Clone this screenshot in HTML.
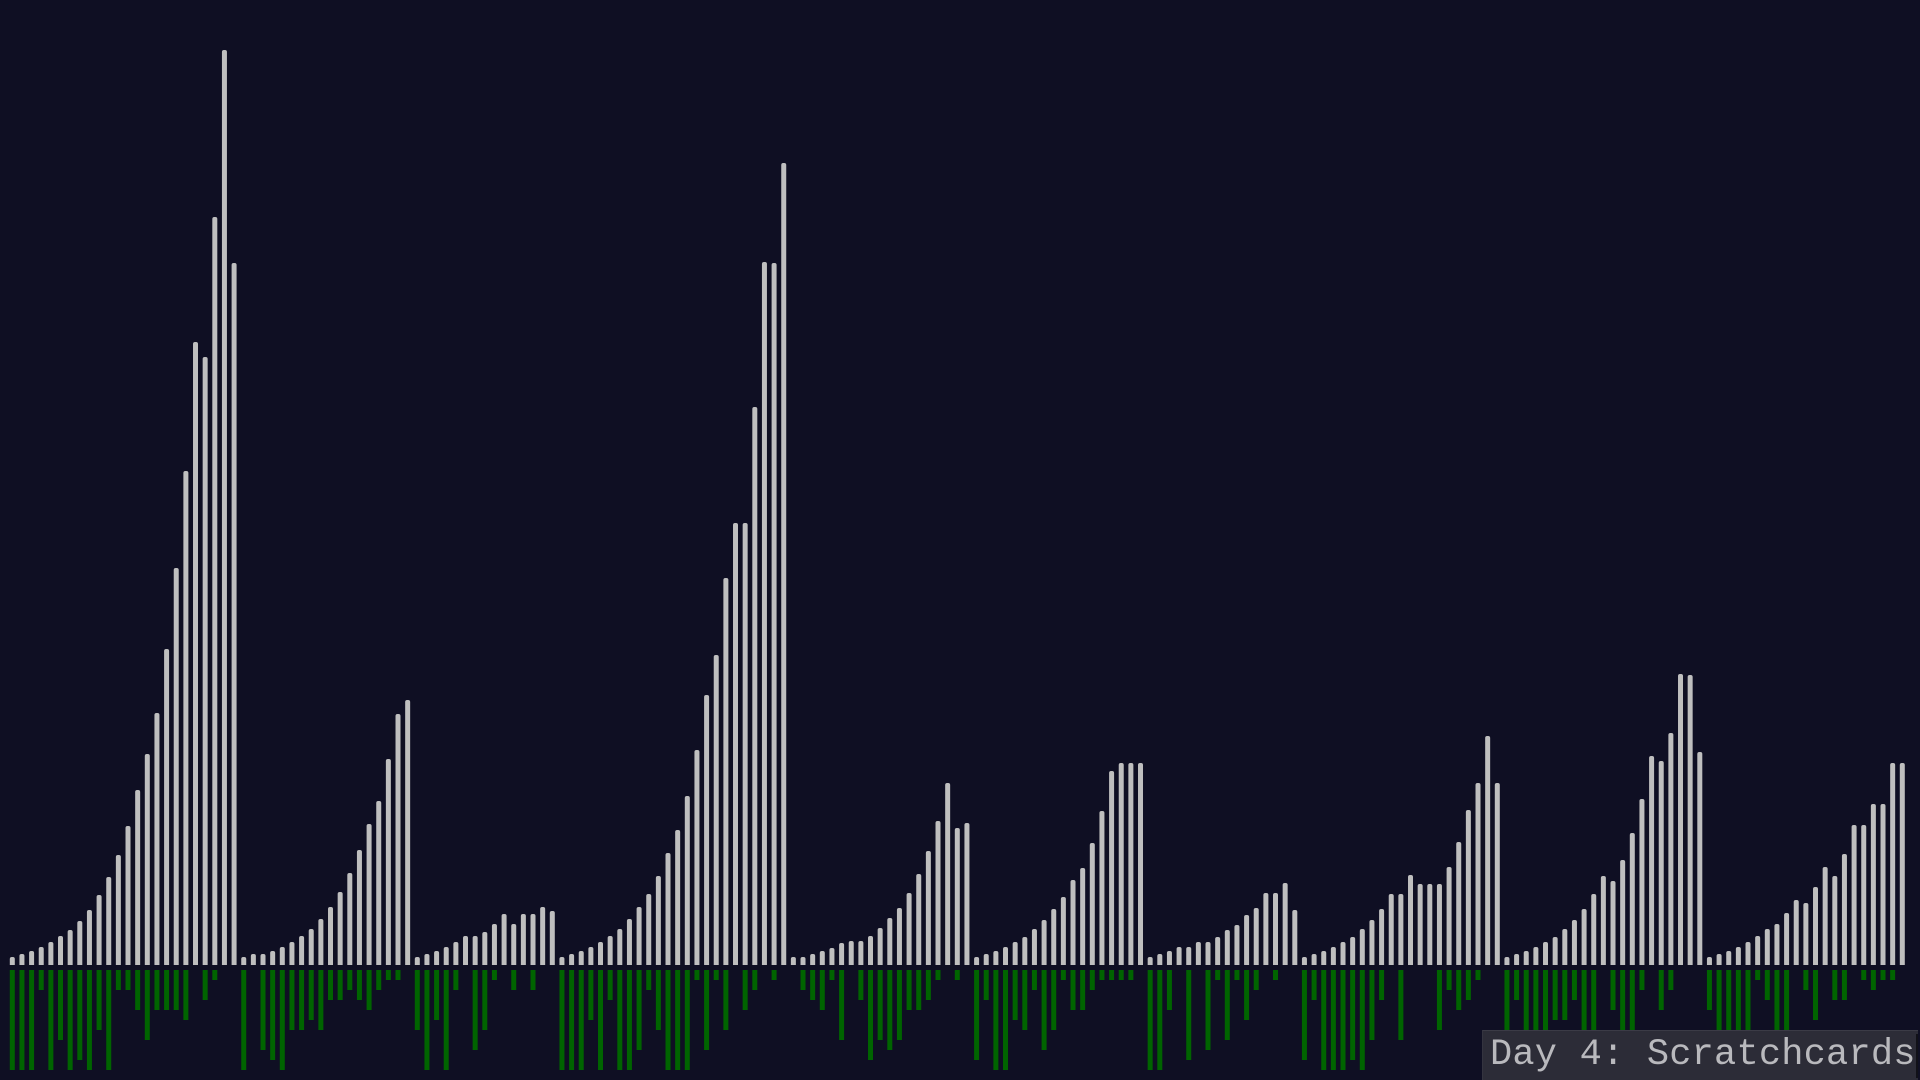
<!DOCTYPE html>
<html>
<head>
<meta charset="utf-8">
<style>
  html, body { margin: 0; padding: 0; background: #0f0f23; }
  body { width: 1920px; height: 1080px; overflow: hidden; position: relative; }
  #chart { position: absolute; left: 0; top: 0; }
  #title-box {
    position: absolute; left: 1482px; top: 1030px; width: 436px; height: 50px;
    background: #2c2c37; border-top: 1px solid #3b3b46; border-left: 1px solid #34343f;
    box-sizing: border-box;
  }
  #title-text {
    position: absolute; left: 7px; top: 1px;
    font-family: "Liberation Mono", monospace; font-size: 37px; line-height: 46px;
    color: #b9b9bd; white-space: pre; letter-spacing: 0.2px;
  }
  #cursor { position: absolute; left: 433px; top: 3px; width: 2px; height: 44px; background: #111118; }
</style>
</head>
<body>
<svg id="chart" width="1920" height="1080" xmlns="http://www.w3.org/2000/svg"></svg>
<div id="title-box">
  <div id="title-text">Day 4: Scratchcards</div>
  <div id="cursor"></div>
</div>
<script>
// Card copies (gray, upward)
const copies = [
  8,11,14,18,23,29,35,44,55,70,88,110,139,175,211,252,316,397,494,623,608,748,915,702,
  8,11,11,14,18,23,29,36,46,58,73,92,115,141,164,206,251,265,
  8,11,14,18,23,29,29,33,41,51,41,51,51,58,54,
  8,11,14,18,23,29,36,46,58,71,89,112,135,169,215,270,310,387,442,442,558,703,702,802,
  8,8,11,14,17,22,24,24,29,37,47,57,72,91,114,144,182,137,142,
  8,11,14,18,23,28,36,45,56,68,85,97,122,154,194,202,202,202,
  8,11,14,18,18,23,23,28,35,40,50,57,72,72,82,55,
  8,11,14,18,23,28,36,45,56,71,71,90,81,81,81,98,123,155,182,229,182,
  8,11,14,18,23,28,36,45,56,71,89,84,105,132,166,209,204,232,291,290,213,
  8,11,14,18,23,29,36,41,52,65,62,78,98,89,111,140,140,161,161,202,202
];
// Winning-number matches (green, downward)
const matches = [
  10,10,10,2,10,7,10,9,10,6,10,2,2,4,7,4,4,4,5,0,3,1,0,0,
  10,0,8,9,10,6,6,5,6,3,3,2,3,4,2,1,1,0,
  6,10,5,10,2,0,8,6,1,0,2,0,2,0,0,
  10,10,10,5,10,3,10,10,8,2,6,10,10,10,1,8,1,6,0,4,2,0,1,0,
  0,2,3,4,1,7,0,3,9,7,8,7,4,4,3,1,0,1,0,
  9,3,10,10,5,6,2,8,6,1,4,4,2,1,1,1,1,0,
  10,10,4,0,9,0,8,1,7,1,5,2,0,1,0,0,
  9,3,10,10,10,9,10,7,3,0,7,0,0,0,6,2,4,3,1,0,0,
  6,3,6,6,6,5,5,3,6,6,0,4,6,6,2,0,4,2,0,0,0,
  4,6,6,6,6,1,3,6,6,0,2,5,0,3,3,0,1,2,1,1,0
];

const svg = document.getElementById('chart');
const NS = 'http://www.w3.org/2000/svg';
const N = copies.length;
const x0 = 12.3, x1 = 1902.3;
const step = (x1 - x0) / (N - 1);
const baseline = 965, greenTop = 970;
const barW = 5;
function xScale(i) { return x0 + i * step; }
function yCopies(v) { return v * 1.0; }      // pixels per copy unit
function yMatches(v) { return v * 10; }      // pixels per match

for (let i = 0; i < N; i++) {
  const cx = xScale(i);
  const h = yCopies(copies[i]);
  const r = document.createElementNS(NS, 'rect');
  r.setAttribute('x', (cx - barW / 2).toFixed(2));
  r.setAttribute('y', (baseline - h).toFixed(2));
  r.setAttribute('width', barW);
  r.setAttribute('height', (h + 2).toFixed(2));
  r.setAttribute('rx', 2);
  r.setAttribute('fill', '#bfbfbf');
  
  
  svg.appendChild(r);
  const c = document.createElementNS(NS, 'rect');
  c.setAttribute('x', (cx - barW / 2 - 0.5).toFixed(2));
  c.setAttribute('y', baseline);
  c.setAttribute('width', barW + 1);
  c.setAttribute('height', 3);
  c.setAttribute('fill', '#0f0f23');
  
  
  svg.appendChild(c);

  const m = matches[i];
  if (m > 0) {
    const g = document.createElementNS(NS, 'rect');
    g.setAttribute('x', (cx - barW / 2).toFixed(2));
    g.setAttribute('y', greenTop);
    g.setAttribute('width', barW);
    g.setAttribute('height', yMatches(m));
    g.setAttribute('fill', '#006400');
    
    
    svg.appendChild(g);
  }
}
</script>
</body>
</html>
